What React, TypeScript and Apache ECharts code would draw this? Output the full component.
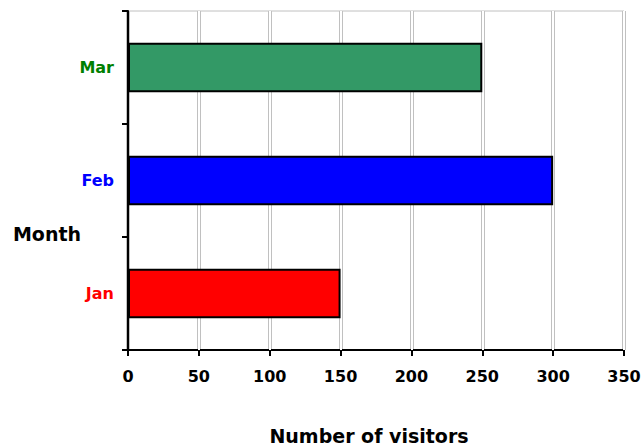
import React, { useEffect, useRef } from "react";
import * as echarts from "echarts";

const months = ["Jan", "Feb", "Mar"];
const visitors = [150, 300, 250];
const barColors = ["#ff0000", "#0000ff", "#339966"];
const labelColors = ["#ff0000", "#0000ff", "#008000"];
const xTicks = [0, 50, 100, 150, 200, 250, 300, 350];

const FONT = "'DejaVu Sans', Verdana, sans-serif";

export default function App() {
  const ref = useRef<HTMLDivElement>(null);
  useEffect(() => {
    const chart = echarts.init(ref.current!, null, { renderer: "svg" });
    const gridLine = { color: "#c0c0c0", width: 4 };
    chart.setOption({
      animation: false,
      backgroundColor: "#ffffff",
      grid: {
        left: 128,
        right: 19,
        top: 11,
        bottom: 96,
        containLabel: false,
        outerBoundsMode: "none",
        show: true,
        borderColor: "#c0c0c0",
        borderWidth: 1,
      },
      xAxis: [
        {
          type: "value",
          min: xTicks[0],
          max: xTicks[xTicks.length - 1],
          interval: 50,
          name: "Number of visitors",
          nameLocation: "middle",
          nameGap: 76,
          nameTextStyle: {
            fontFamily: FONT,
            fontWeight: "bold",
            fontSize: 19,
            color: "#000",
            padding: [0, 14, 0, 0],
          },
          axisLine: { show: true, lineStyle: { color: "#000", width: 2 } },
          axisTick: { show: true, length: 6, lineStyle: { color: "#000", width: 2 } },
          axisLabel: { margin: 18, fontFamily: FONT, fontWeight: "bold", fontSize: 16, color: "#000" },
          splitLine: { show: true, lineStyle: gridLine },
          z: 1,
        },
        {
          type: "value",
          min: xTicks[0],
          max: xTicks[xTicks.length - 1],
          interval: 50,
          axisLine: { show: false },
          axisTick: { show: false },
          axisLabel: { show: false },
          splitLine: { show: true, lineStyle: { color: "#ffffff", width: 2 } },
          z: 2,
        },
      ],
      yAxis: {
        type: "category",
        data: months,
        axisLine: { show: true, lineStyle: { color: "#000", width: 2 } },
        axisTick: { show: true, length: 6, lineStyle: { color: "#000", width: 2 } },
        axisLabel: {
          margin: 14,
          fontFamily: FONT,
          fontWeight: "bold",
          fontSize: 16,
          color: (_v: string, i: number) => labelColors[i],
        },
        z: 3,
      },
      graphic: [
        {
          type: "text",
          x: 47,
          y: 234,
          style: {
            text: "Month",
            fontFamily: FONT,
            fontWeight: "bold",
            fontSize: 19,
            fill: "#000",
            align: "center",
            verticalAlign: "middle",
          },
        },
      ],
      series: [
        {
          type: "bar",
          xAxisIndex: 0,
          barWidth: "44%",
          z: 5,
          data: visitors.map((v, i) => ({
            value: v,
            itemStyle: { color: barColors[i], borderColor: "#000", borderWidth: 2 },
          })),
        },
      ],
    });
    return () => chart.dispose();
  }, []);
  return (
    <div
      ref={ref}
      style={{ position: "fixed", left: 0, top: 0, width: 643, height: 446 }}
    />
  );
}
